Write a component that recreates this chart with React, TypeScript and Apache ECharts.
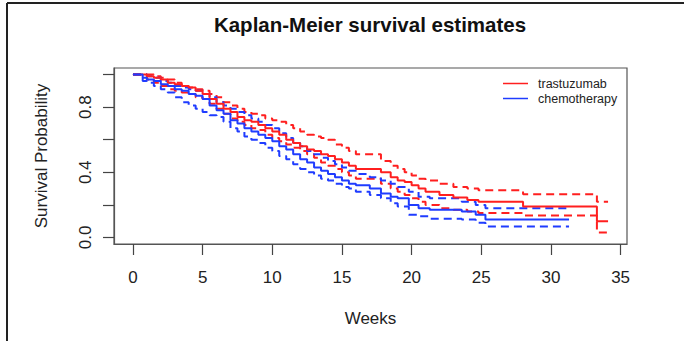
import React, { useEffect, useRef } from "react";
import * as echarts from "echarts";

// Trastuzumab group: event times (weeks), KM estimate, 95% CI bounds
const trastTimes = [0, 1, 1.5, 2, 2.5, 3, 3.5, 4, 4.5, 5, 5.5, 6, 6.5, 7, 7.5, 8, 8.5, 9, 9.5, 10, 10.5, 11, 11.5, 12, 12.5, 13, 13.5, 14, 14.5, 15, 15.5, 16, 17.8, 18.5, 19, 19.5, 20, 20.5, 21, 22, 23, 24, 24.8, 28, 33.3, 34.1];
const trastSurv = [1.0, 0.99, 0.98, 0.97, 0.95, 0.94, 0.93, 0.92, 0.9, 0.88, 0.85, 0.82, 0.79, 0.77, 0.74, 0.72, 0.71, 0.69, 0.67, 0.65, 0.63, 0.6, 0.58, 0.56, 0.54, 0.53, 0.51, 0.5, 0.48, 0.46, 0.44, 0.42, 0.4, 0.37, 0.35, 0.34, 0.32, 0.3, 0.28, 0.26, 0.245, 0.23, 0.22, 0.19, 0.1, 0.1];
const trastUpper = [1.0, 1.0, 0.99, 0.98, 0.97, 0.95, 0.93, 0.92, 0.91, 0.9, 0.88, 0.86, 0.83, 0.81, 0.79, 0.77, 0.76, 0.75, 0.73, 0.72, 0.71, 0.69, 0.67, 0.65, 0.63, 0.62, 0.61, 0.6, 0.57, 0.55, 0.53, 0.51, 0.47, 0.44, 0.42, 0.4, 0.38, 0.36, 0.35, 0.33, 0.31, 0.3, 0.29, 0.265, 0.22, 0.22];
const trastLower = [1.0, 0.97, 0.95, 0.93, 0.91, 0.9, 0.89, 0.88, 0.86, 0.85, 0.82, 0.79, 0.76, 0.73, 0.71, 0.69, 0.67, 0.66, 0.63, 0.61, 0.59, 0.57, 0.55, 0.53, 0.51, 0.49, 0.46, 0.44, 0.42, 0.4, 0.38, 0.36, 0.33, 0.3, 0.28, 0.26, 0.24, 0.22, 0.2, 0.18, 0.17, 0.16, 0.15, 0.135, 0.03, 0.03];

// Chemotherapy group
const chemoTimes = [0, 0.7, 1, 1.5, 2, 2.5, 3, 3.5, 4, 4.5, 5, 5.5, 6, 6.5, 7, 7.5, 8, 8.5, 9, 9.5, 10, 10.5, 11, 11.5, 12, 12.5, 13, 13.5, 14, 14.5, 15, 15.5, 16, 17, 17.8, 18.5, 19, 19.8, 20.5, 21.3, 23.6, 24.6, 25.3, 31.3];
const chemoSurv = [1.0, 0.98, 0.97, 0.96, 0.94, 0.93, 0.91, 0.9, 0.88, 0.87, 0.85, 0.81, 0.78, 0.76, 0.72, 0.7, 0.67, 0.65, 0.63, 0.61, 0.59, 0.56, 0.54, 0.51, 0.48, 0.46, 0.43, 0.41, 0.39, 0.37, 0.35, 0.33, 0.32, 0.3, 0.27, 0.25, 0.24, 0.2, 0.18, 0.17, 0.16, 0.14, 0.11, 0.11];
const chemoUpper = [1.0, 1.0, 0.99, 0.98, 0.96, 0.95, 0.93, 0.92, 0.91, 0.9, 0.88, 0.86, 0.83, 0.81, 0.79, 0.77, 0.75, 0.73, 0.71, 0.69, 0.67, 0.64, 0.61, 0.58, 0.56, 0.53, 0.51, 0.49, 0.47, 0.45, 0.43, 0.41, 0.39, 0.37, 0.35, 0.33, 0.31, 0.28, 0.25, 0.24, 0.22, 0.2, 0.18, 0.18];
const chemoLower = [1.0, 0.96, 0.95, 0.93, 0.91, 0.89, 0.86, 0.83, 0.81, 0.79, 0.77, 0.75, 0.74, 0.71, 0.67, 0.65, 0.62, 0.6, 0.58, 0.55, 0.53, 0.5, 0.48, 0.45, 0.42, 0.4, 0.38, 0.36, 0.35, 0.33, 0.31, 0.3, 0.28, 0.26, 0.24, 0.21, 0.19, 0.14, 0.13, 0.115, 0.11, 0.09, 0.067, 0.067];

const groupNames = ["trastuzumab", "chemotherapy"];
const xTicks = [0, 5, 10, 15, 20, 25, 30, 35];
const yTicks = [0, 0.2, 0.4, 0.6, 0.8, 1.0];
const yLabels = [0, 0.4, 0.8];

const RED = "#ff1f1f";
const BLUE = "#1f3cff";
const AXIS = "#555";
const FONT = "'Liberation Sans', Arial, Helvetica, sans-serif";

const zip = (t: number[], v: number[]) => t.map((x, i) => [x, v[i]]);

export default function App() {
  const ref = useRef<HTMLDivElement>(null);
  useEffect(() => {
    if (!ref.current) return;
    const chart = echarts.init(ref.current, null, { renderer: "svg" });
    const mk = (name: string, color: string, data: number[][], dashed: boolean) => ({
      name,
      type: "line",
      step: "end",
      symbol: "none",
      color,
      data,
      lineStyle: { color, width: 2, type: dashed ? [8, 5] : "solid" },
      emphasis: { disabled: true },
    });
    chart.setOption({
      animation: false,
      textStyle: { fontFamily: FONT },
      title: {
        text: "Kaplan-Meier survival estimates",
        left: 370,
        textAlign: "center",
        top: 14,
        padding: 0,
        textStyle: { fontFamily: FONT, fontSize: 20.5, fontWeight: "bold", color: "#111" },
      },
      legend: {
        data: groupNames,
        orient: "vertical",
        left: 503,
        top: 77,
        padding: 0,
        itemGap: 2,
        itemWidth: 25,
        itemHeight: 1.5,
        icon: "rect",
        selectedMode: false,
        textStyle: { fontFamily: FONT, fontSize: 12.5, color: "#222", padding: [0, 0, 0, 5] },
      },
      grid: {
        left: 114,
        right: 57,
        top: 68,
        bottom: 97,
        show: true,
        borderColor: AXIS,
        borderWidth: 1.2,
      },
      xAxis: {
        type: "value",
        min: -1.36,
        max: 35.46,
        name: "Weeks",
        nameLocation: "middle",
        nameGap: 66,
        nameTextStyle: { fontFamily: FONT, fontSize: 17, color: "#222" },
        splitLine: { show: false },
        axisLine: { show: true, onZero: false, lineStyle: { color: AXIS, width: 1.2 } },
        axisTick: { show: true, inside: false, customValues: xTicks, length: 11, lineStyle: { color: "#444", width: 1.2 } },
        axisLabel: { customValues: xTicks, margin: 25, fontFamily: FONT, fontSize: 17, color: "#222" },
      },
      yAxis: {
        type: "value",
        min: -0.04,
        max: 1.04,
        name: "Survival Probability",
        nameLocation: "middle",
        nameGap: 64,
        nameTextStyle: { fontFamily: FONT, fontSize: 17, color: "#222" },
        splitLine: { show: false },
        axisLine: { show: true, onZero: false, lineStyle: { color: AXIS, width: 1.2 } },
        axisTick: { show: true, inside: false, customValues: yTicks, length: 11, lineStyle: { color: "#444", width: 1.2 } },
        axisLabel: {
          customValues: yLabels,
          rotate: 90,
          margin: 20,
          fontFamily: FONT,
          fontSize: 17,
          color: "#222",
          formatter: (v: number) => v.toFixed(1),
        },
      },
      graphic: [
        { type: "line", shape: { x1: 7, y1: 3, x2: 7, y2: 341 }, style: { stroke: "#222", lineWidth: 2 } },
        { type: "line", shape: { x1: 7, y1: 3, x2: 684, y2: 3 }, style: { stroke: "#222", lineWidth: 2 } },
      ],
      series: [
        mk("trastuzumab upper", RED, zip(trastTimes, trastUpper), true),
        mk("trastuzumab lower", RED, zip(trastTimes, trastLower), true),
        mk("chemotherapy upper", BLUE, zip(chemoTimes, chemoUpper), true),
        mk("chemotherapy lower", BLUE, zip(chemoTimes, chemoLower), true),
        mk(groupNames[0], RED, zip(trastTimes, trastSurv), false),
        mk(groupNames[1], BLUE, zip(chemoTimes, chemoSurv), false),
      ],
    });
    return () => chart.dispose();
  }, []);
  return (
    <div
      ref={ref}
      style={{ position: "fixed", left: 0, top: 0, width: 684, height: 341, background: "#fff" }}
    />
  );
}
